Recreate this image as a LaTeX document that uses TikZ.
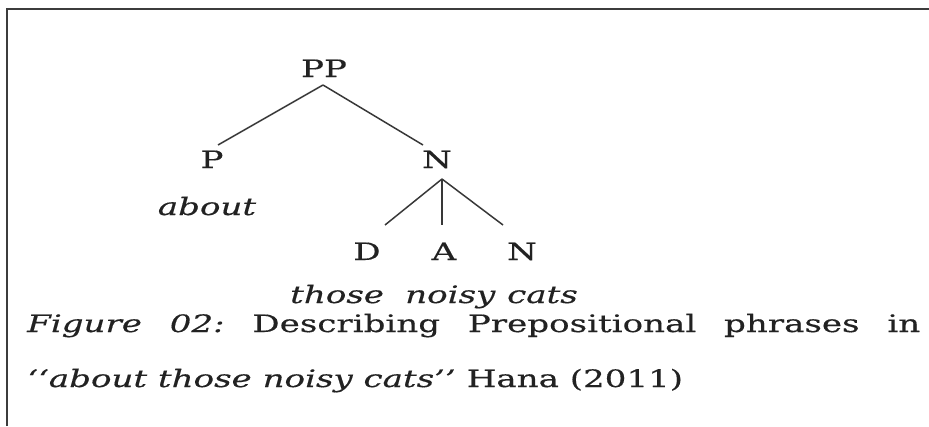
\documentclass[tikz,border=0pt]{standalone}
\usepackage{fontspec}
\setmainfont[FakeStretch=1.42, FakeBold=0.4]{DejaVu Serif}
\usetikzlibrary{calc}
\definecolor{ink}{HTML}{222222}
\definecolor{framegray}{HTML}{3C3C3C}
\tikzset{
  lbl/.style={anchor=base, inner sep=0pt, text=ink, font=\fontsize{24}{28}\selectfont},
  word/.style={anchor=base west, inner sep=0pt, text=ink, font=\fontsize{24}{28}\selectfont\itshape},
  captext/.style={anchor=base west, inner sep=0pt, text=ink, font=\fontsize{24}{28}\selectfont},
  branch/.style={draw=ink!90, line width=1.5pt},
}
\begin{document}
\begin{tikzpicture}[x=1pt, y=-1pt]
\useasboundingbox (0,0) rectangle (929,426);
% frame: only the left and top edges fall inside the picture
\draw[framegray, line width=2.8pt] (7,426) -- (7,9) -- (929,9);

% tree labels
\node[lbl] (pp) at (324,77) {PP};
\node[lbl] (p)  at (212,168) {P};
\node[lbl] (n)  at (437,168) {N};
\node[lbl] (d)  at (367,260) {D};
\node[lbl] (a)  at (444,260) {A};
\node[lbl] (nn) at (522,260) {N};

% words under the leaves
\node[word, anchor=base] (about) at (207,215) {about};
\node[word] (those) at (290,303) {those};
\node[word] (noisy) at (405,303) {noisy};
\node[word] (cats)  at (507,303) {cats};

% branches
\coordinate (top) at ($(pp.base)+(-1,8)$);
\coordinate (mid) at ($(n.base)+(5,11)$);
\draw[branch] (top) -- ($(p.base)+(6,-23)$);
\draw[branch] (top) -- ($(n.base)+(-14,-23)$);
\draw[branch] (mid) -- ($(d.base)+(18,-35)$);
\draw[branch] (mid) -- ($(a.base)+(-2,-35)$);
\draw[branch] (mid) -- ($(nn.base)+(-19,-35)$);

% caption, first line justified to the full width
\node[captext] (cap1) at (27,332) {\hbox to 893pt{\itshape Figure\hfill 02:\hfill\upshape Describing\hfill Prepositional\hfill phrases\hfill in}};
\node[captext] (cap2) at (27,387) {\itshape `{}`about those noisy cats'{}' \upshape Hana (2011)};
\end{tikzpicture}
\end{document}
